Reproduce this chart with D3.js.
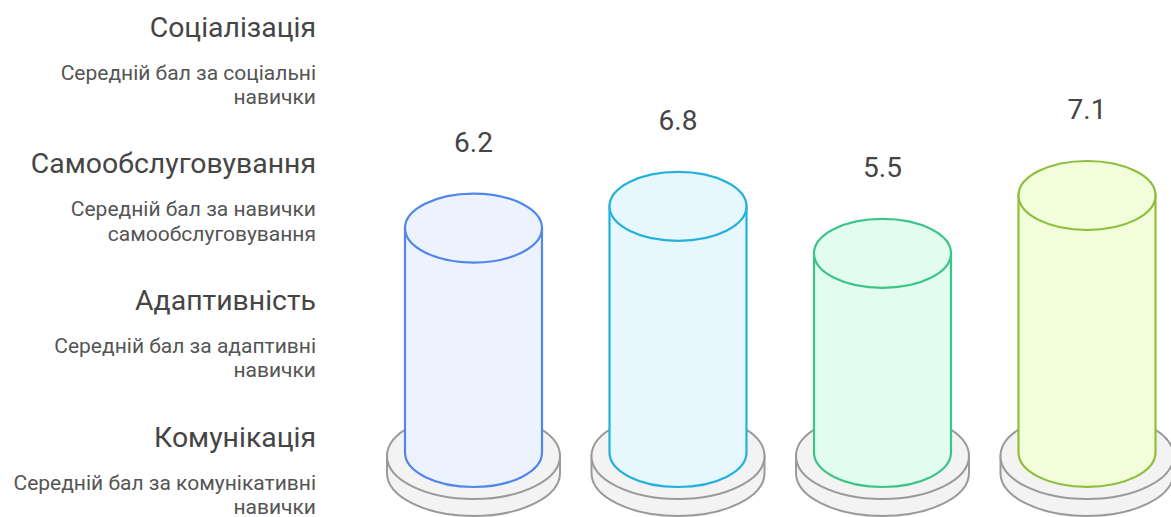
<!DOCTYPE html>
<html><head><meta charset="utf-8">
<script src="https://cdn.jsdelivr.net/npm/d3@7"></script>
<style>html,body{margin:0;padding:0;background:#fff;}svg{display:block;}</style>
</head><body>
<svg id="chart" width="1171" height="517"></svg>
<script>
const categories = ["Соціалізація", "Самообслуговування", "Адаптивність", "Комунікація"];
const descriptions = [
  ["Середній бал за соціальні", "навички"],
  ["Середній бал за навички", "самообслуговування"],
  ["Середній бал за адаптивні", "навички"],
  ["Середній бал за комунікативні", "навички"]
];
const values = [6.2, 6.8, 5.5, 7.1];
const strokeColors = ["#5186ea", "#23b1dc", "#3dc589", "#8fbe3b"];
const fillColors = ["#ecf2fe", "#e6f7fd", "#e2fcef", "#f1fddb"];

const svg = d3.select("#chart");
const x = d3.scalePoint().domain(categories).range([473.5, 1087]);
const y = d3.scaleLinear().domain([0, 10]).range([452.5, 90.5]);

const rx = 68.5, ry = 34.5;
const prx = 86.5, pry = 43, plateTop = 456, plateBot = 473;

const g = svg.append("g");
categories.forEach((c, i) => {
  const cx = x(c);
  const v = values[i];
  const grp = g.append("g");
  // plate
  grp.append("path")
    .attr("d", `M${cx - prx},${plateTop} L${cx - prx},${plateBot} A${prx},${pry} 0 0 0 ${cx + prx},${plateBot} L${cx + prx},${plateTop} Z`)
    .attr("fill", "#f3f3f3").attr("stroke", "#9a9a9a").attr("stroke-width", 2);
  grp.append("ellipse").attr("cx", cx).attr("cy", plateTop).attr("rx", prx).attr("ry", pry)
    .attr("fill", "#f3f3f3").attr("stroke", "#9a9a9a").attr("stroke-width", 2);
  // cylinder
  const yb = y(0), yt = y(v);
  grp.append("path")
    .attr("d", `M${cx - rx},${yt} L${cx - rx},${yb} A${rx},${ry} 0 0 0 ${cx + rx},${yb} L${cx + rx},${yt} Z`)
    .attr("fill", fillColors[i]).attr("stroke", strokeColors[i]).attr("stroke-width", 2.2);
  grp.append("ellipse").attr("cx", cx).attr("cy", yt).attr("rx", rx).attr("ry", ry)
    .attr("fill", fillColors[i]).attr("stroke", strokeColors[i]).attr("stroke-width", 2.2);
  // value label
  grp.append("text").attr("x", cx).attr("y", yt - ry - 41.5)
    .attr("text-anchor", "middle")
    .attr("font-family", "Roboto, sans-serif").attr("font-size", 28)
    .attr("fill", "#444").text(d3.format(".1f")(v));
});

// left labels
const labelY = d3.scalePoint().domain(categories).range([36.5, 446.6]);
const lg = svg.append("g");
categories.forEach((c, i) => {
  const by = labelY(c);
  lg.append("text").attr("x", 316).attr("y", by).attr("text-anchor", "end")
    .attr("font-family", "Roboto, sans-serif").attr("font-size", 28.4)
    .attr("fill", "#454545").text(c);
  descriptions[i].forEach((line, j) => {
    lg.append("text").attr("x", 316).attr("y", by + 43 + j * 24.5).attr("text-anchor", "end")
      .attr("font-family", "Roboto, sans-serif").attr("font-size", 21)
      .attr("fill", "#555").text(line);
  });
});
</script>
</body></html>
